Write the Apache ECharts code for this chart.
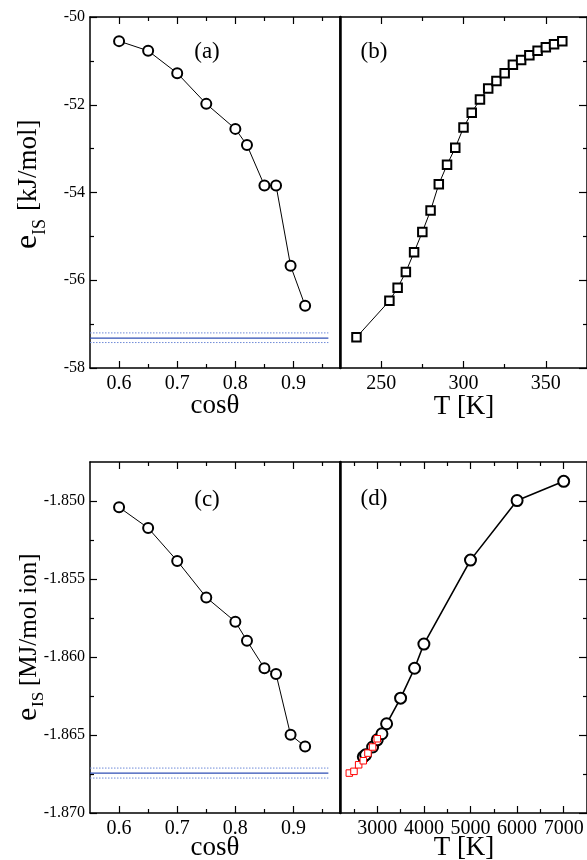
<!DOCTYPE html>
<html><head><meta charset="utf-8">
<script src="https://cdn.jsdelivr.net/npm/echarts@6/dist/echarts.min.js"></script>
<style>html,body{margin:0;padding:0;background:#fff}#c{width:587px;height:860px}</style>
</head><body><div id="c"></div>
<script>
// ---------- data ----------
const cosTheta = [0.6, 0.65, 0.7, 0.75, 0.8, 0.82, 0.85, 0.87, 0.895, 0.92];
const eIS_a = [-50.55, -50.77, -51.28, -51.98, -52.55, -52.92, -53.84, -53.84, -55.67, -56.58];
const tempB = [235, 255, 260, 265, 270, 275, 280, 285, 290, 295, 300, 305, 310, 315, 320, 325, 330, 335, 340, 345, 350, 355, 360];
const eIS_b = [-57.30, -56.47, -56.17, -55.81, -55.36, -54.90, -54.41, -53.81, -53.37, -52.98, -52.52, -52.18, -51.88, -51.63, -51.46, -51.28, -51.09, -50.98, -50.87, -50.77, -50.69, -50.62, -50.55];
const eIS_c = [-1.8504, -1.85173, -1.85384, -1.85618, -1.85774, -1.85896, -1.86072, -1.86109, -1.86499, -1.86574];
const tempD = [2700, 2750, 2900, 3000, 3100, 3200, 3500, 3800, 4000, 5000, 6000, 7000];
const eIS_d = [-1.8664, -1.86627, -1.86577, -1.86531, -1.86492, -1.86428, -1.86264, -1.86072, -1.85917, -1.85379, -1.84997, -1.84874];
const tempDred = [2400, 2500, 2600, 2700, 2800, 2900, 3000];
const eIS_dred = [-1.86744, -1.86733, -1.86691, -1.86665, -1.86616, -1.86577, -1.86524];
const refX = [0.55, 0.96];
const refA = [-57.32, -57.20, -57.42];      // solid, dotted, dotted
const refC = [-1.86744, -1.86712, -1.86776];
// tick labels
const xTicksCos = [0.6, 0.7, 0.8, 0.9], xMinorCos = [0.65, 0.75, 0.85, 0.95];
const xTicksB = [250, 300, 350], xMinorB = [275, 325];
const xTicksD = [3000, 4000, 5000, 6000, 7000], xMinorD = [2500, 3500, 4500, 5500, 6500];
const yTicksAB = [-58, -56, -54, -52, -50], yMinorAB = [-57, -55, -53, -51];
const yTicksCD = [-1.870, -1.865, -1.860, -1.855, -1.850], yMinorCD = [-1.8675, -1.8625, -1.8575, -1.8525];

// ---------- layout ----------
const FONT = "'Liberation Serif','Times New Roman',serif";
const H = 351;
const panels = [
  {left: 90, top: 17, width: 250, x: {min: 0.55, max: 0.98, major: xTicksCos, minor: xMinorCos, fmt: v => v.toFixed(1)}, y: {min: -58, max: -50, major: yTicksAB, minor: yMinorAB, fmt: v => String(v)}, leftTicks: true},
  {left: 340, top: 17, width: 249, x: {min: 225, max: 375, major: xTicksB, minor: xMinorB, fmt: v => String(v)}, y: {min: -58, max: -50, major: yTicksAB, minor: yMinorAB, fmt: v => String(v)}, leftTicks: false},
  {left: 90, top: 462, width: 250, x: {min: 0.55, max: 0.98, major: xTicksCos, minor: xMinorCos, fmt: v => v.toFixed(1)}, y: {min: -1.870, max: -1.8475, major: yTicksCD, minor: yMinorCD, fmt: v => v.toFixed(3)}, leftTicks: true},
  {left: 340, top: 462, width: 249, x: {min: 2200, max: 7500, major: xTicksD, minor: xMinorD, fmt: v => String(v)}, y: {min: -1.870, max: -1.8475, major: yTicksCD, minor: yMinorCD, fmt: v => v.toFixed(3)}, leftTicks: false}
];

const grids = [], xAxes = [], yAxes = [];
panels.forEach(p => grids.push({left: p.left, top: p.top, width: p.width, height: H, containLabel: false}));
panels.forEach(p => grids.push({left: p.left, top: p.top, width: p.width, height: H, containLabel: false}));

const black = '#000';
function axisBase(extra) {
  return Object.assign({type: 'value', splitLine: {show: false}, axisPointer: {show: false}}, extra);
}
panels.forEach((p, i) => {
  const line = {show: true, onZero: false, lineStyle: {color: black, width: 1.5}};
  const noLine = {show: false, onZero: false};
  const noLabel = {show: false};
  // x axes
  xAxes.push(axisBase({gridIndex: i, position: 'bottom', min: p.x.min, max: p.x.max, axisLine: line,
    axisTick: {show: true, inside: true, length: 7, customValues: p.x.major, lineStyle: {color: black, width: 1.2}},
    axisLabel: {show: true, customValues: p.x.major, formatter: p.x.fmt, fontSize: 20, fontFamily: FONT, color: black, margin: 6}}));
  xAxes.push(axisBase({gridIndex: i, position: 'top', min: p.x.min, max: p.x.max, axisLine: line,
    axisTick: {show: true, inside: true, length: 7, customValues: p.x.major, lineStyle: {color: black, width: 1.2}},
    axisLabel: noLabel}));
  xAxes.push(axisBase({gridIndex: i + 4, position: 'bottom', min: p.x.min, max: p.x.max, axisLine: noLine,
    axisTick: {show: true, inside: true, length: 4, customValues: p.x.minor, lineStyle: {color: black, width: 1.2}},
    axisLabel: noLabel}));
  xAxes.push(axisBase({gridIndex: i + 4, position: 'top', min: p.x.min, max: p.x.max, axisLine: noLine,
    axisTick: {show: true, inside: true, length: 4, customValues: p.x.minor, lineStyle: {color: black, width: 1.2}},
    axisLabel: noLabel}));
  // y axes
  const lt = p.leftTicks;
  yAxes.push(axisBase({gridIndex: i, position: 'left', min: p.y.min, max: p.y.max,
    axisLine: {show: true, onZero: false, lineStyle: {color: black, width: lt ? 1.5 : 2.5}},
    axisTick: {show: lt, inside: true, length: 7, customValues: p.y.major, lineStyle: {color: black, width: 1.2}},
    axisLabel: {show: lt, customValues: p.y.major, formatter: p.y.fmt, fontSize: 16, fontFamily: FONT, color: black, margin: 5}}));
  yAxes.push(axisBase({gridIndex: i, position: 'right', min: p.y.min, max: p.y.max, axisLine: line,
    axisTick: {show: !lt, inside: true, length: 8, customValues: p.y.major, lineStyle: {color: black, width: 1.2}},
    axisLabel: noLabel}));
  yAxes.push(axisBase({gridIndex: i + 4, position: 'left', min: p.y.min, max: p.y.max, axisLine: noLine,
    axisTick: {show: lt, inside: true, length: 4, customValues: p.y.minor, lineStyle: {color: black, width: 1.2}},
    axisLabel: noLabel}));
  yAxes.push(axisBase({gridIndex: i + 4, position: 'right', min: p.y.min, max: p.y.max, axisLine: noLine,
    axisTick: {show: !lt, inside: true, length: 4, customValues: p.y.minor, lineStyle: {color: black, width: 1.2}},
    axisLabel: noLabel}));
});

function zip(xs, ys) { return xs.map((x, k) => [x, ys[k]]); }
function refSeries(panel, vals) {
  const out = [];
  out.push({type: 'line', xAxisIndex: 4 * panel, yAxisIndex: 4 * panel, data: refX.map(x => [x, vals[0]]), showSymbol: false, symbol: 'none',
    lineStyle: {color: '#2f4fb5', width: 1.2}, silent: true, z: 1});
  [vals[1], vals[2]].forEach(v => out.push({type: 'line', xAxisIndex: 4 * panel, yAxisIndex: 4 * panel, data: refX.map(x => [x, v]), showSymbol: false, symbol: 'none',
    lineStyle: {color: '#6f8ad8', width: 1, type: [1.5, 1.5]}, silent: true, z: 1}));
  return out;
}
const circleStyle = {color: black, borderColor: black, borderWidth: 1};
const series = [
  ...refSeries(0, refA),
  ...refSeries(2, refC),
  {type: 'line', xAxisIndex: 0, yAxisIndex: 0, data: zip(cosTheta, eIS_a), symbol: 'emptyCircle', symbolSize: 10,
    itemStyle: circleStyle, lineStyle: {color: black, width: 1}, z: 3},
  {type: 'line', xAxisIndex: 4, yAxisIndex: 4, data: zip(tempB, eIS_b), symbol: 'emptyRect', symbolSize: 8.5,
    itemStyle: circleStyle, lineStyle: {color: black, width: 1}, z: 3},
  {type: 'line', xAxisIndex: 8, yAxisIndex: 8, data: zip(cosTheta, eIS_c), symbol: 'emptyCircle', symbolSize: 10,
    itemStyle: circleStyle, lineStyle: {color: black, width: 1}, z: 3},
  {type: 'line', xAxisIndex: 12, yAxisIndex: 12, data: zip(tempD, eIS_d), symbol: 'emptyCircle', symbolSize: 11,
    itemStyle: {color: black, borderColor: black, borderWidth: 1.2}, lineStyle: {color: black, width: 1.6}, z: 3},
  {type: 'line', xAxisIndex: 12, yAxisIndex: 12, data: zip(tempDred, eIS_dred), symbol: 'rect', symbolSize: 6.5,
    itemStyle: {color: '#ffffff', borderColor: '#ff0000', borderWidth: 1}, lineStyle: {color: '#ff0000', width: 1}, z: 4}
];

function txt(text, x, y, size, opts) {
  return Object.assign({type: 'text', x: x, y: y, silent: true, z: 10,
    style: {text: text, fontSize: size, fontFamily: FONT, fill: black, align: 'center', verticalAlign: 'middle'}}, opts || {});
}
function rtxt(text, x, y, size) {
  return {type: 'text', x: x, y: y, rotation: Math.PI / 2, silent: true, z: 10,
    style: {text: text, fontSize: size, fontFamily: FONT, fill: black, align: 'left', verticalAlign: 'middle'}};
}
const graphics = [
  txt('(a)', 207, 52, 23), txt('(b)', 374, 52, 23), txt('(c)', 207, 500, 23), txt('(d)', 374, 499, 23),
  txt('cos\u03b8', 215, 406, 27), txt('T [K]', 464, 407, 27),
  txt('cos\u03b8', 215, 848, 27), txt('T [K]', 464, 848, 27),
  rtxt('e', 28, 249, 32), rtxt('IS', 40, 235, 18), rtxt('[kJ/mol]', 29, 211, 27),
  rtxt('e', 28, 721, 30), rtxt('IS', 39, 707, 17), rtxt('[MJ/mol ion]', 29, 686, 25)
];

const chart = echarts.init(document.getElementById('c'), null, {renderer: 'canvas'});
chart.setOption({
  animation: false,
  backgroundColor: '#fff',
  grid: grids, xAxis: xAxes, yAxis: yAxes, series: series,
  graphic: {elements: graphics}
});
</script></body></html>
